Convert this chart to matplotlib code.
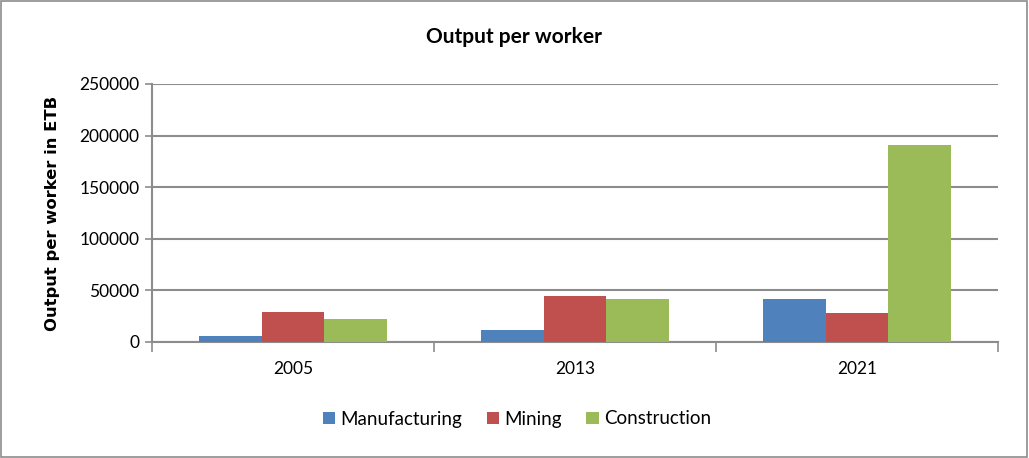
import matplotlib.pyplot as plt
import numpy as np
from matplotlib.patches import Rectangle

years = ['2005', '2013', '2021']
manufacturing = [5800, 12100, 42100]
mining = [29000, 45000, 27900]
construction = [22100, 41200, 191000]

series_names = ['Manufacturing', 'Mining', 'Construction']
series_colors = ['#4F81BD', '#C0504D', '#9BBB59']
y_ticks = [0, 50000, 100000, 150000, 200000, 250000]

plt.rcParams['font.family'] = ['Lato', 'DejaVu Sans']
grid_color = '#8c8c8c'

fig = plt.figure(figsize=(10.29, 4.58), dpi=100)
ax = fig.add_axes([152 / 1029, 1 - 342 / 458, (998 - 152) / 1029, (342 - 84) / 458])

x = np.arange(len(years))
w = 0.222
for i, (vals, name, col) in enumerate(zip([manufacturing, mining, construction],
                                          series_names, series_colors)):
    ax.bar(x + (i - 1) * w, vals, width=w, color=col, label=name, zorder=3)

ax.set_xlim(-0.5, len(years) - 0.5)
ax.set_ylim(0, 250000)
ax.set_yticks(y_ticks)
ax.set_yticklabels([str(v) for v in y_ticks], fontsize=12.5)
ax.yaxis.grid(True, color=grid_color, linewidth=1.5, zorder=0)

# category labels centred, tick marks at the boundaries
ax.set_xticks(x)
ax.set_xticklabels(years, fontsize=12.5)
ax.tick_params(axis='x', length=0, pad=14)
ax.set_xticks(np.arange(len(years) + 1) - 0.5, minor=True)
ax.tick_params(axis='x', which='minor', length=7, color=grid_color, width=1.2)
ax.tick_params(axis='y', length=5, color=grid_color, width=1.2, pad=4)

for side in ['top', 'right']:
    ax.spines[side].set_visible(False)
for side in ['left', 'bottom']:
    ax.spines[side].set_color(grid_color)
    ax.spines[side].set_linewidth(1.5)

ax.set_ylabel('Output per worker in ETB', fontsize=11.8, fontweight='bold',
              family='DejaVu Sans', labelpad=14)
fig.text(0.5, 1 - 37 / 458, 'Output per worker',
         ha='center', va='center', fontsize=15, fontweight='bold')

fig.legend(loc='center', bbox_to_anchor=(517 / 1029, 1 - 419 / 458), ncol=3,
           frameon=False, fontsize=13.5, handlelength=0.65, handleheight=0.65,
           handletextpad=0.3, columnspacing=1.3)

fig.patches.append(Rectangle((0.001, 0.002), 0.997, 0.995, transform=fig.transFigure,
                             fill=False, edgecolor='#8c8c8c', linewidth=1.2))

fig.savefig('out.png', dpi=100)
